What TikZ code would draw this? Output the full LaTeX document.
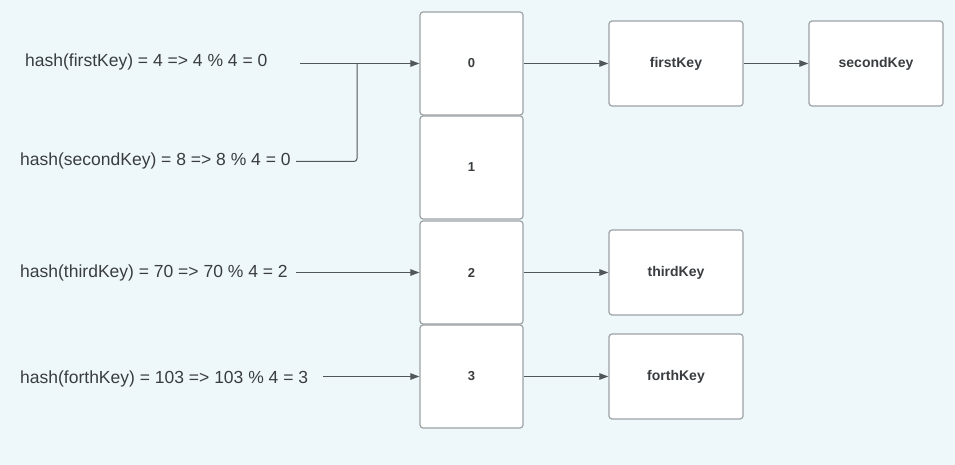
\documentclass[tikz,border=0pt]{standalone}
\usepackage{fontspec}
\setmainfont{Liberation Sans}
\usetikzlibrary{arrows.meta}
\definecolor{bg}{HTML}{EEF8FA}
\definecolor{txt}{HTML}{3A3D40}
\definecolor{ln}{HTML}{50565B}
\definecolor{bd}{HTML}{9CA2A6}
\begin{document}
\begin{tikzpicture}[x=1pt,y=-1pt,
  slot/.style={draw=bd,line width=1.2pt,fill=white,rounded corners=3pt,
    minimum width=103pt,minimum height=103pt,inner sep=0pt,
    font=\fontsize{13}{15}\selectfont\bfseries,text=txt},
  keybox/.style={draw=bd,line width=1.2pt,fill=white,rounded corners=3pt,
    minimum width=134pt,minimum height=85pt,inner sep=0pt,
    font=\fontsize{14}{16}\selectfont\bfseries,text=txt},
  hashlbl/.style={anchor=west,inner sep=0pt,font=\fontsize{17.5}{20}\selectfont,text=txt},
  link/.style={draw=ln,line width=1pt,-{Triangle[length=9pt,width=6.5pt]}},
  plain/.style={draw=ln,line width=1pt}
]
\fill[bg] (0,0) rectangle (955,465);
\useasboundingbox (0,0) rectangle (955,465);

% bucket column
\node[slot] (b0) at (471.5,63.5) {0};
\node[slot] (b1) at (471.5,167.5) {1};
\node[slot] (b2) at (471.5,272.5) {2};
\node[slot] (b3) at (471.5,376.5) {3};

% key boxes
\node[keybox] (k1) at (676,63.5) {\raisebox{2pt}{firstKey}};
\node[keybox] (k2) at (876,63.5) {\raisebox{2pt}{secondKey}};
\node[keybox] (k3) at (676,272.5) {\raisebox{2pt}{thirdKey}};
\node[keybox] (k4) at (676,376.5) {\raisebox{2pt}{forthKey}};

% hash labels
\node[hashlbl] (l0) at (25,62) {hash(firstKey) = 4 => 4 \% 4 = 0};
\node[hashlbl] (l1) at (20,160.5) {hash(secondKey) = 8 => 8 \% 4 = 0};
\node[hashlbl] (l2) at (20,273) {hash(thirdKey) = 70 => 70 \% 4 = 2};
\node[hashlbl] (l3) at (20,379) {hash(forthKey) = 103 => 103 \% 4 = 3};

% line starts
\coordinate (s0) at (300,63.5);
\coordinate (s1) at (296,161.5);
\coordinate (s2) at (296,272.5);
\coordinate (s3) at (323,376.5);
\coordinate (j) at (357,63.5);

% connectors
\draw[link] (s0) -- (b0.west);
\draw[plain,rounded corners=3pt] (s1) -| (j);
\draw[link] (s2) -- (b2.west);
\draw[link] (s3) -- (b3.west);
\draw[link] (b0.east) -- (k1.west);
\draw[link] (k1.east) -- (k2.west);
\draw[link] (b2.east) -- (k3.west);
\draw[link] (b3.east) -- (k4.west);
\end{tikzpicture}
\end{document}
